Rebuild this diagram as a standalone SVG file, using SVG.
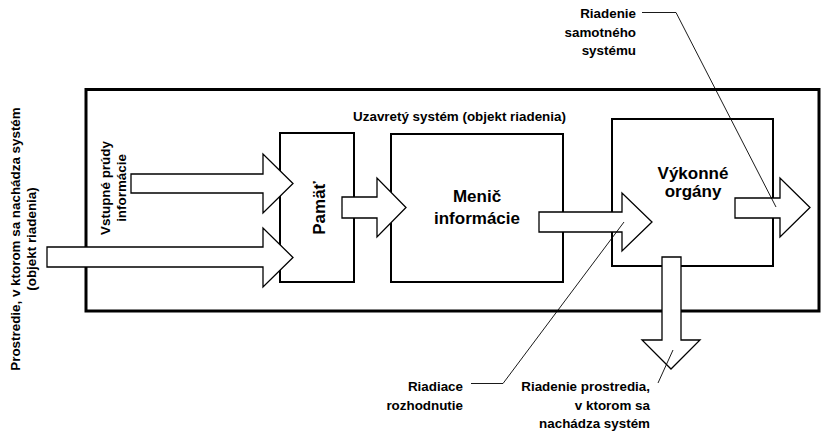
<svg xmlns="http://www.w3.org/2000/svg" width="822" height="432" viewBox="0 0 822 432">
<style>
text{font-family:"Liberation Sans",Arial,sans-serif;font-weight:bold;fill:#000}
.s{font-size:13.4px}
.b{font-size:17px}
.box{fill:#fff;stroke:#000;stroke-width:2}
.arr{fill:#fff;stroke:#000;stroke-width:1.3;stroke-linejoin:miter}
.lead{fill:none;stroke:#000;stroke-width:0.9}
</style>
<rect width="822" height="432" fill="#fff"/>
<g id="system">
<rect x="86" y="89.5" width="733" height="221.5" fill="none" stroke="#000" stroke-width="3"/>
<text class="s" x="459.5" y="121" text-anchor="middle">Uzavretý systém (objekt riadenia)</text>
</g>
<g id="pamat">
<rect class="box" x="280" y="133" width="74" height="149"/>
<text class="b" transform="translate(325,208) rotate(-90)" text-anchor="middle">Pamäť</text>
</g>
<g id="menic">
<rect class="box" x="391" y="134" width="172" height="148"/>
<text class="b" x="477" y="202" text-anchor="middle">Menič</text>
<text class="b" x="477" y="224" text-anchor="middle">informácie</text>
</g>
<g id="vykonne">
<rect class="box" x="612" y="119" width="161" height="147"/>
<text class="b" x="693" y="179" text-anchor="middle">Výkonné</text>
<text class="b" x="693" y="197" text-anchor="middle">orgány</text>
</g>
<g id="arrows">
<path class="arr" d="M131,174 H263 V154 L293,183.5 L263,213 V193 H131 Z"/>
<path class="arr" d="M47,247 H263 V228 L293,257.5 L263,287 V267 H47 Z"/>
<path class="arr" d="M342,197 H377 V178 L406,207.5 L377,237 V218 H342 Z"/>
<path class="arr" d="M539,212 H622 V193 L652,222 L622,251 V232 H539 Z"/>
<path class="arr" d="M735,198 H780 V178 L810,207.5 L780,237 V218 H735 Z"/>
<path class="arr" d="M662,257 V340 H642 L671,369 L700,340 H681 V257 Z"/>
</g>
<g id="leaders">
<polyline class="lead" points="642,12.5 676,12.5 776,207"/>
<polyline class="lead" points="471,383.5 503,383.5 624,222"/>
<line class="lead" x1="658" y1="383" x2="673" y2="350"/>
</g>
<g id="labels">
<text class="s" transform="translate(20,239) rotate(-90)" text-anchor="middle">Prostredie, v ktorom sa nachádza systém</text>
<text class="s" transform="translate(36,239) rotate(-90)" text-anchor="middle">(objekt riadenia)</text>
<text class="s" transform="translate(110,188) rotate(-90)" text-anchor="middle">Vstupné prúdy</text>
<text class="s" transform="translate(126,188) rotate(-90)" text-anchor="middle">informácie</text>
<text class="s" x="636" y="18" text-anchor="end">Riadenie</text>
<text class="s" x="636" y="36.5" text-anchor="end">samotného</text>
<text class="s" x="636" y="55" text-anchor="end">systému</text>
<text class="s" x="463" y="391" text-anchor="end">Riadiace</text>
<text class="s" x="463" y="410" text-anchor="end">rozhodnutie</text>
<text class="s" x="650" y="391" text-anchor="end">Riadenie prostredia,</text>
<text class="s" x="650" y="410" text-anchor="end">v ktorom sa</text>
<text class="s" x="650" y="428" text-anchor="end">nachádza systém</text>
</g>
</svg>
